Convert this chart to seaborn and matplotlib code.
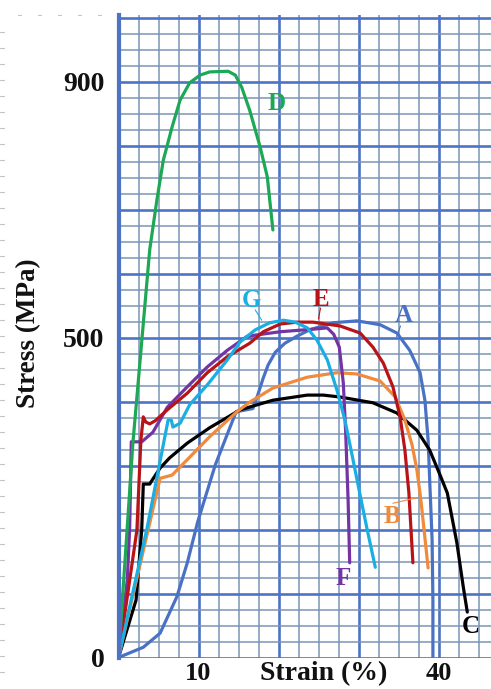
import numpy as np
import pandas as pd
import matplotlib
matplotlib.use("Agg")
import matplotlib.pyplot as plt
from matplotlib.lines import Line2D
import seaborn as sns

# Engineering stress-strain curves of seven specimens (strain in %, stress in MPa)
A_strain = [0, 3.1, 5.2, 7.3, 8.6, 9.9, 12.1, 14.7, 16.8, 17.4, 18.1, 18.7, 19.6, 20.8, 22.3, 23.9,
            26.8, 29.8, 32.7, 34.8, 36.4, 37.7, 38.3, 38.7, 38.9, 39.2, 39.3, 39.3]
A_stress = [0, 16, 38, 95, 148, 212, 301, 384, 389, 410, 437, 457, 477, 491, 502, 512,
            523, 526, 520, 507, 480, 445, 402, 340, 277, 184, 90, 0]

B_strain = [0, 5.2, 6.7, 8.9, 11.4, 14.8, 16.4, 19.3, 23.6, 27.3, 29.8, 32.7, 34.6, 35.8, 36.7,
            37.3, 37.8, 38.2, 38.7]
B_stress = [0, 280, 285, 313, 345, 384, 399, 421, 438, 445, 443, 432, 407, 371, 332,
            293, 246, 199, 140]

C_strain = [0, 2.2, 2.9, 3.1, 3.9, 4.2, 5.2, 6.4, 8.6, 11.4, 15.2, 19.3, 23.6, 25.6, 27.7, 31.8,
            34.8, 37.3, 38.9, 40.2, 41.1, 42.3, 43.1, 43.6]
C_stress = [0, 90, 199, 271, 271, 277, 296, 312, 335, 359, 387, 402, 410, 410, 407, 398,
            382, 355, 324, 285, 257, 179, 110, 71]

D_strain = [0, 1.8, 3.9, 4.8, 5.6, 6.7, 7.7, 8.9, 10.2, 11.4, 13.7, 14.6, 15.4, 16.4, 17.7,
            18.6, 19.3]
D_stress = [0, 335, 637, 715, 777, 829, 871, 898, 910, 915, 916, 910, 891, 855, 798,
            751, 668]

E_strain = [0, 2.3, 2.8, 3.1, 3.4, 3.9, 4.6, 6.1, 8.6, 11.1, 13.6, 16.4, 18.1, 20.2, 22.3, 24.3,
            27.7, 30.2, 31.8, 33.1, 34.3, 35.2, 35.8, 36.3, 36.8]
E_stress = [0, 199, 340, 376, 368, 365, 370, 387, 413, 445, 470, 491, 509, 521, 524, 524,
            518, 507, 485, 460, 423, 376, 324, 257, 148]

F_strain = [0, 1.1, 1.4, 1.6, 2.9, 4.3, 6.1, 8.6, 11.1, 13.6, 16.1, 20.2, 24.3, 26.1, 26.9,
            27.6, 28.1, 28.4, 28.7, 28.9]
F_stress = [0, 121, 204, 337, 337, 352, 391, 423, 454, 480, 502, 509, 513, 515, 505,
            485, 429, 351, 246, 148]

G_strain = [0, 3.6, 6.2, 6.6, 6.8, 7.7, 8.9, 11.1, 13.6, 15.2, 17.1, 18.9, 20.6, 22.1, 23.6,
            24.8, 26.1, 27.3, 28.3, 29.2, 30.2, 31.1, 32.1]
G_stress = [0, 204, 371, 371, 360, 366, 395, 426, 465, 493, 512, 523, 527, 524, 515,
            496, 465, 418, 371, 316, 254, 199, 141]

specimens = ["A", "B", "C", "D", "E", "F", "G"]
curves = {
    "A": (A_strain, A_stress), "B": (B_strain, B_stress), "C": (C_strain, C_stress),
    "D": (D_strain, D_stress), "E": (E_strain, E_stress), "F": (F_strain, F_stress),
    "G": (G_strain, G_stress),
}
palette = {
    "A": "#4A72C4", "B": "#F08A3C", "C": "#000000", "D": "#1DA855",
    "E": "#B81418", "F": "#7434A4", "G": "#1AAEE2",
}

frames = []
for name in specimens:
    eps, sig = curves[name]
    frames.append(pd.DataFrame({"strain": eps, "stress": sig, "specimen": name}))
df = pd.concat(frames, ignore_index=True)

sns.set_style("white")
plt.rcParams["font.family"] = ["Liberation Serif", "DejaVu Serif"]
plt.rcParams["font.weight"] = "bold"

W, H = 491, 689
fig = plt.figure(figsize=(W / 100, H / 100), dpi=100)
fig.patch.set_facecolor("white")
ax = fig.add_axes([118.5 / W, 31.5 / H, 372.5 / W, 642.5 / H])

major_c = "#4D74C4"
minor_c = "#7A95B6"

ax.set_xlim(0, 372.5 / 8.0)
ax.set_ylim(0, 642.5 / 0.64)
ax.set_xticks(np.arange(0, 46, 10))
ax.set_xticks(np.arange(0, 46.6, 2.5), minor=True)
ax.set_yticks(np.arange(0, 1001, 100))
ax.set_yticks(np.arange(0, 1004, 25), minor=True)
ax.set_xticklabels(["", "10", "", "", "40"])
ax.set_yticklabels(["0", "", "", "", "", "500", "", "", "", "900", ""])
ax.grid(which="minor", color=minor_c, lw=1.1)
ax.grid(which="major", color=major_c, lw=1.9)
ax.set_axisbelow(True)
ax.tick_params(which="both", length=0)
ax.tick_params(axis="x", pad=3.5, labelsize=19, labelcolor="#111111")
ax.tick_params(axis="y", pad=10, labelsize=20, labelcolor="#111111")
for lab in ax.get_xticklabels() + ax.get_yticklabels():
    lab.set_fontweight("bold")
for side in ["top", "right", "bottom"]:
    ax.spines[side].set_visible(False)
ax.spines["left"].set_color(major_c)
ax.spines["left"].set_linewidth(3)

order = ["A", "C", "B", "F", "E", "G", "D"]
sns.lineplot(data=df, x="strain", y="stress", hue="specimen", hue_order=order,
             palette=palette, sort=False, estimator=None, lw=2.3, legend=False,
             solid_joinstyle="round", ax=ax)

ax.set_xlabel("Strain (%)", fontsize=20, fontweight="bold", color="#111111")
ax.xaxis.set_label_coords(0.55, -0.006)
ax.xaxis.label.set_verticalalignment("top")
ax.set_ylabel("Stress (MPa)", fontsize=19.5, fontweight="bold", color="#111111")
ax.yaxis.set_label_coords(-0.241, 0.505)
ax.yaxis.label.set_verticalalignment("center")

# curve letters with short leader lines
letters = {"D": (19.75, 865), "G": (16.6, 558), "E": (25.25, 560), "A": (35.6, 534),
           "B": (34.25, 220), "F": (28.1, 123), "C": (44.0, 49)}
for name, (lx, ly) in letters.items():
    ax.text(lx, ly, name, color=palette[name], fontsize=18, fontweight="bold",
            ha="center", va="center")
leaders = {"G": ((17.1, 543), (17.9, 527)), "E": ((25.25, 546), (25.0, 529)),
           "A": ((35.25, 518), (34.75, 501)), "B": ((34.3, 241), (37.4, 250))}
for name, (p0, p1) in leaders.items():
    ax.plot([p0[0], p1[0]], [p0[1], p1[1]], color=palette[name], lw=0.8)

# faint ruling marks along the left margin of the sheet
for yy in np.arange(32, 680, 16):
    fig.add_artist(Line2D([0, 4 / W], [1 - yy / H, 1 - yy / H], color="#BCC4CC", lw=0.8,
                          transform=fig.transFigure))
for xx in np.arange(18, 110, 20):
    fig.add_artist(Line2D([xx / W, (xx + 3) / W], [1 - 15 / H, 1 - 15 / H], color="#BCC4CC",
                          lw=0.8, transform=fig.transFigure))

fig.savefig("out.png", dpi=100, facecolor="white")
